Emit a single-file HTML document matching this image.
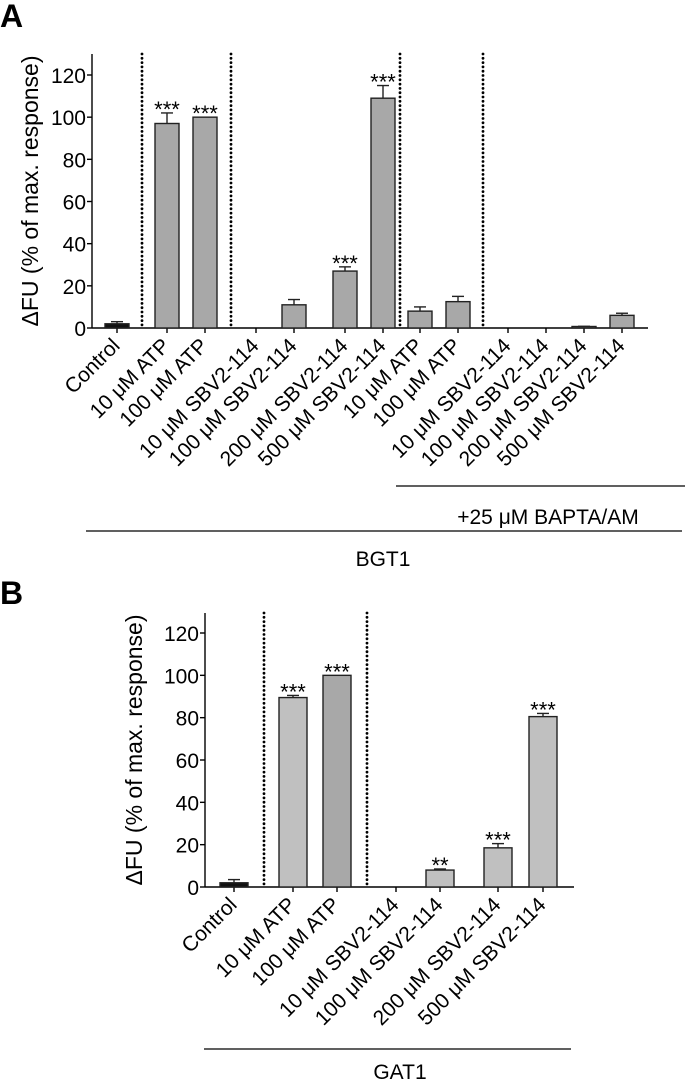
<!DOCTYPE html>
<html><head><meta charset="utf-8"><style>
body{margin:0;background:#fff}
svg{display:block;font-family:"Liberation Sans",Arial,sans-serif}
</style></head><body>
<svg id="s" width="685" height="1082" viewBox="0 0 685 1082" xmlns="http://www.w3.org/2000/svg">
<text x="0" y="27" font-size="32" font-weight="bold">A</text>
<text x="0" y="604" font-size="32" font-weight="bold">B</text>
<g id="ga"></g>
<g id="gb"></g>
<line x1="396" y1="486" x2="685" y2="486" stroke="#000" stroke-width="1.2"/>
<text x="548" y="524" font-size="21" text-anchor="middle">+25 μM  BAPTA/AM</text>
<line x1="86" y1="531" x2="682" y2="531" stroke="#000" stroke-width="1.2"/>
<text x="383" y="566" font-size="21" text-anchor="middle">BGT1</text>
<line x1="204" y1="1049" x2="571" y2="1049" stroke="#000" stroke-width="1.2"/>
<text x="400" y="1079" font-size="21" text-anchor="middle">GAT1</text>
</svg>
<script>
const NS="http://www.w3.org/2000/svg";
const catsA=["Control","10 μM ATP","100 μM ATP","10 μM SBV2-114","100 μM SBV2-114","200 μM SBV2-114","500 μM SBV2-114","10 μM ATP","100 μM ATP","10 μM SBV2-114","100 μM SBV2-114","200 μM SBV2-114","500 μM SBV2-114"];
const valsA=[2,97,100,0,11,27,109,8,12.5,0,0,0.5,6];
const errA=[1,5,0,0,2.5,2,6,2,2.5,0,0,0.3,1];
const sigA=["","***","***","","","***","***","","","","","",""];
const colA=["#111","#a8a8a8","#a8a8a8","#a8a8a8","#a8a8a8","#a8a8a8","#a8a8a8","#a8a8a8","#a8a8a8","#a8a8a8","#a8a8a8","#a8a8a8","#a8a8a8"];
const catsB=["Control","10 μM ATP","100 μM ATP","10 μM SBV2-114","100 μM SBV2-114","200 μM SBV2-114","500 μM SBV2-114"];
const valsB=[2,89.5,100,0,8,18.5,80.5];
const errB=[1.5,1,0,0,0.5,2,1.5];
const sigB=["","***","***","","**","***","***"];
const colB=["#111","#c0c0c0","#a8a8a8","#c0c0c0","#c0c0c0","#c0c0c0","#c0c0c0"];
const ticks=[0,20,40,60,80,100,120];

function el(p,t,a){const e=document.createElementNS(NS,t);for(const k in a)e.setAttribute(k,a[k]);p.appendChild(e);return e;}

function panel(g,o){
  const y=v=>o.y0-(v)*(o.y0-o.y120)/120;
  const x=i=>o.xs[i];
  let l=el(g,"line",{x1:o.ax,y1:o.top,x2:o.ax,y2:o.y0,stroke:"#000","stroke-width":1.4});
  
  
  l=el(g,"line",{x1:o.ax,y1:o.y0,x2:o.axEnd,y2:o.y0,stroke:"#000","stroke-width":1.4});
  
  
  ticks.forEach(t=>{
    el(g,"line",{x1:o.ax-5,y1:y(t),x2:o.ax,y2:y(t),stroke:"#000","stroke-width":1.4});
    const tx=el(g,"text",{x:o.ax-6,y:y(t)+8,"font-size":21,"text-anchor":"end"});
    tx.textContent=t;
    
    
  });
  const tt=el(g,"text",{x:0,y:0,"font-size":23,"text-anchor":"middle",transform:`translate(${o.titleX},${(o.top+o.y0)/2}) rotate(-90)`});
  tt.textContent="ΔFU (% of max. response)";
  
  
  o.divs.forEach(dx=>{
    const d=el(g,"line",{x1:dx,y1:o.top,x2:dx,y2:o.y0,stroke:"#000","stroke-width":2.8,"stroke-dasharray":"0 4.3","stroke-linecap":"round"});
    
    
  });
  o.cats.forEach((c,i)=>{
    const v=o.vals[i],e=o.err[i],cx=x(i);
    el(g,"line",{x1:cx,y1:o.y0,x2:cx,y2:o.y0+5,stroke:"#000","stroke-width":1.4});
    if(v>0){
      const h=Math.max(o.y0-y(v),1.5);
      const r=el(g,"rect",{x:cx-o.bw/2,y:o.y0-h,width:o.bw,height:h,fill:o.col[i],stroke:"#222","stroke-width":1.4});
      
      
      if(e>0){
        el(g,"line",{x1:cx,y1:y(v),x2:cx,y2:y(v+e),stroke:"#222","stroke-width":1.4});
        el(g,"line",{x1:cx-6,y1:y(v+e),x2:cx+6,y2:y(v+e),stroke:"#222","stroke-width":1.4});
      }
    }
    if(o.sig[i]){
      const s=el(g,"text",{x:cx,y:y(v+e)+4,"font-size":22,"text-anchor":"middle"});
      s.textContent=o.sig[i];
      
      
    }
    const lb=el(g,"text",{x:0,y:0,"font-size":21,"text-anchor":"end",transform:`translate(${cx+4},${o.y0+19}) rotate(-45)`});
    lb.textContent=c;
    
    
  });
}
panel(document.getElementById("ga"),{cats:catsA,vals:valsA,err:errA,sig:sigA,col:colA,
  xs:[117,167,205,256,294,345,383,420,458,508,546,584,622],ax:92,axEnd:648,top:54,y0:328,y120:75,bw:24,
  divs:[142,231,400,483],titleX:38,fs:21});
panel(document.getElementById("gb"),{cats:catsB,vals:valsB,err:errB,sig:sigB,col:colB,
  xs:[234,293,337,396,440,498,543],ax:205,axEnd:574,top:613,y0:887,y120:633,bw:28,
  divs:[264,367],titleX:142,fs:21});
</script>
</body></html>
